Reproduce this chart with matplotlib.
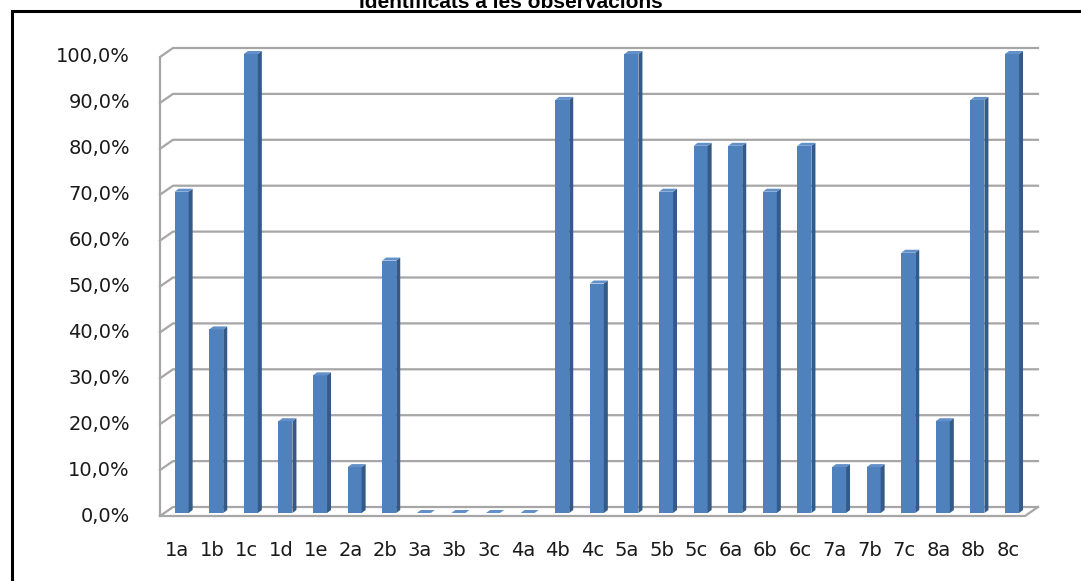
import matplotlib.pyplot as plt
from matplotlib.patches import Polygon, Rectangle

W, H = 1081, 581

categories = ["1a", "1b", "1c", "1d", "1e", "2a", "2b", "3a", "3b", "3c", "4a", "4b", "4c",
              "5a", "5b", "5c", "6a", "6b", "6c", "7a", "7b", "7c", "8a", "8b", "8c"]
values = [70, 40, 100, 20, 30, 10, 55, 0, 0, 0, 0, 90, 50,
          100, 70, 80, 80, 70, 80, 10, 10, 56.7, 20, 90, 100]
ticks = [0, 10, 20, 30, 40, 50, 60, 70, 80, 90, 100]
tick_labels = [f"{t},0%" for t in ticks]
title = "Identificats a les observacions"

front = "#4f81bd"
side = "#345a87"
top = "#6390c8"
grid = "#a6a6a6"

fig = plt.figure(figsize=(W / 100, H / 100), dpi=100)

# outer chart frame (runs off the right and bottom edges)
fig.patches.append(Rectangle((12 / W, -0.05), 1.2, 1 - 11 / H + 0.05, transform=fig.transFigure,
                             fill=False, edgecolor="black", linewidth=2.2))
fig.text(511 / W, 1 - 8 / H, title, ha="center", va="baseline", fontsize=15,
         fontweight="bold", family="Liberation Sans")

# front plane of the 3-D box
ax = fig.add_axes([160 / W, (H - 516) / H, 865 / W, 459 / H])
n = len(categories)
ax.set_xlim(-0.5, n - 0.5)
ax.set_ylim(0, 100)
ax.axis("off")

px_x = 865 / n
px_y = 459 / 100
dx, dy = 13 / px_x, 9 / px_y          # depth of the box
left, right = -0.5, n - 0.5

# walls and gridlines
ax.plot([left, left], [0, 100], color=grid, lw=1.6, clip_on=False, solid_capstyle="butt")
ax.plot([left, right, right + dx], [0, 0, dy], color=grid, lw=1.6, clip_on=False)
for t in ticks:
    ax.plot([left, left + dx, right + dx], [t, t + dy, t + dy], color=grid, lw=1.6,
            clip_on=False, solid_joinstyle="miter")

# bars, set a third of the way into the box
ox, oy = dx / 3, dy / 3
w = 14 / px_x
sdx, sdy = 4 / px_x, 3 / px_y
xs = list(range(n))
ax.bar([x + ox for x in xs], values, width=w, bottom=oy, color=front, zorder=3, clip_on=False)
for x, v in zip(xs, values):
    x0 = x + ox - w / 2
    x1 = x + ox + w / 2
    ax.add_patch(Polygon([(x1, oy), (x1 + sdx, oy + sdy), (x1 + sdx, v + oy + sdy), (x1, v + oy)],
                         closed=True, facecolor=side, edgecolor="none", zorder=3, clip_on=False))
    ax.add_patch(Polygon([(x0, v + oy), (x1, v + oy), (x1 + sdx, v + oy + sdy), (x0 + sdx, v + oy + sdy)],
                         closed=True, facecolor=top, edgecolor="none", zorder=3, clip_on=False))

# value axis labels
for t, lab in zip(ticks, tick_labels):
    ax.text(left - 30 / px_x, t, lab, ha="right", va="center", fontsize=14,
            family="DejaVu Sans", color="#1a1a1a", clip_on=False)

# category labels
for x, lab in zip(xs, categories):
    ax.text(x, -35 / px_y, lab, ha="center", va="center", fontsize=14,
            family="DejaVu Sans", color="#1a1a1a", clip_on=False)

fig.savefig("out.png", dpi=100)
